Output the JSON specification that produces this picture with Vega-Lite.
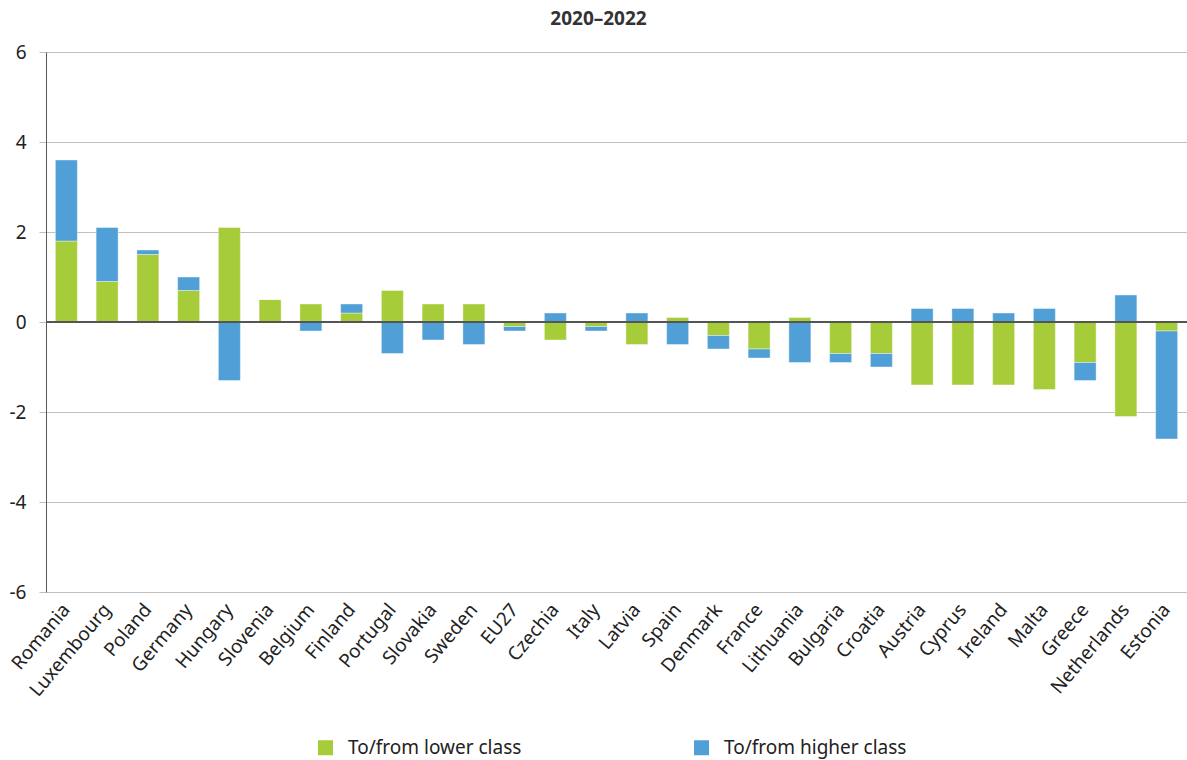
{
  "$schema": "https://vega.github.io/schema/vega-lite/v6.json",
  "width": 1141,
  "height": 540,
  "autosize": {"type": "none"},
  "padding": {"left": 46, "top": 52, "right": 0, "bottom": 168},
  "background": "white",
  "title": {"text": "2020–2022", "font": "Noto Sans", "fontSize": 19, "fontWeight": "bold", "color": "#333333", "anchor": "middle", "dx": -18, "offset": 14},
  "config": {"view": {"stroke": null}, "font": "Noto Sans"},
  "data": {"values": [
    {"country": "Romania", "series": "To/from lower class", "value": 1.8},
    {"country": "Romania", "series": "To/from higher class", "value": 1.8},
    {"country": "Luxembourg", "series": "To/from lower class", "value": 0.9},
    {"country": "Luxembourg", "series": "To/from higher class", "value": 1.2},
    {"country": "Poland", "series": "To/from lower class", "value": 1.5},
    {"country": "Poland", "series": "To/from higher class", "value": 0.1},
    {"country": "Germany", "series": "To/from lower class", "value": 0.7},
    {"country": "Germany", "series": "To/from higher class", "value": 0.3},
    {"country": "Hungary", "series": "To/from lower class", "value": 2.1},
    {"country": "Hungary", "series": "To/from higher class", "value": -1.3},
    {"country": "Slovenia", "series": "To/from lower class", "value": 0.5},
    {"country": "Slovenia", "series": "To/from higher class", "value": 0.0},
    {"country": "Belgium", "series": "To/from lower class", "value": 0.4},
    {"country": "Belgium", "series": "To/from higher class", "value": -0.2},
    {"country": "Finland", "series": "To/from lower class", "value": 0.2},
    {"country": "Finland", "series": "To/from higher class", "value": 0.2},
    {"country": "Portugal", "series": "To/from lower class", "value": 0.7},
    {"country": "Portugal", "series": "To/from higher class", "value": -0.7},
    {"country": "Slovakia", "series": "To/from lower class", "value": 0.4},
    {"country": "Slovakia", "series": "To/from higher class", "value": -0.4},
    {"country": "Sweden", "series": "To/from lower class", "value": 0.4},
    {"country": "Sweden", "series": "To/from higher class", "value": -0.5},
    {"country": "EU27", "series": "To/from lower class", "value": -0.1},
    {"country": "EU27", "series": "To/from higher class", "value": -0.1},
    {"country": "Czechia", "series": "To/from lower class", "value": -0.4},
    {"country": "Czechia", "series": "To/from higher class", "value": 0.2},
    {"country": "Italy", "series": "To/from lower class", "value": -0.1},
    {"country": "Italy", "series": "To/from higher class", "value": -0.1},
    {"country": "Latvia", "series": "To/from lower class", "value": -0.5},
    {"country": "Latvia", "series": "To/from higher class", "value": 0.2},
    {"country": "Spain", "series": "To/from lower class", "value": 0.1},
    {"country": "Spain", "series": "To/from higher class", "value": -0.5},
    {"country": "Denmark", "series": "To/from lower class", "value": -0.3},
    {"country": "Denmark", "series": "To/from higher class", "value": -0.3},
    {"country": "France", "series": "To/from lower class", "value": -0.6},
    {"country": "France", "series": "To/from higher class", "value": -0.2},
    {"country": "Lithuania", "series": "To/from lower class", "value": 0.1},
    {"country": "Lithuania", "series": "To/from higher class", "value": -0.9},
    {"country": "Bulgaria", "series": "To/from lower class", "value": -0.7},
    {"country": "Bulgaria", "series": "To/from higher class", "value": -0.2},
    {"country": "Croatia", "series": "To/from lower class", "value": -0.7},
    {"country": "Croatia", "series": "To/from higher class", "value": -0.3},
    {"country": "Austria", "series": "To/from lower class", "value": -1.4},
    {"country": "Austria", "series": "To/from higher class", "value": 0.3},
    {"country": "Cyprus", "series": "To/from lower class", "value": -1.4},
    {"country": "Cyprus", "series": "To/from higher class", "value": 0.3},
    {"country": "Ireland", "series": "To/from lower class", "value": -1.4},
    {"country": "Ireland", "series": "To/from higher class", "value": 0.2},
    {"country": "Malta", "series": "To/from lower class", "value": -1.5},
    {"country": "Malta", "series": "To/from higher class", "value": 0.3},
    {"country": "Greece", "series": "To/from lower class", "value": -0.9},
    {"country": "Greece", "series": "To/from higher class", "value": -0.4},
    {"country": "Netherlands", "series": "To/from lower class", "value": -2.1},
    {"country": "Netherlands", "series": "To/from higher class", "value": 0.6},
    {"country": "Estonia", "series": "To/from lower class", "value": -0.2},
    {"country": "Estonia", "series": "To/from higher class", "value": -2.4}
  ]},
  "layer": [
    {
      "mark": {"type": "bar", "stroke": "white", "strokeOpacity": 0.4, "strokeWidth": 1},
      "encoding": {
        "x": {"field": "country", "type": "nominal", "sort": null,
          "scale": {"paddingInner": 0.46, "paddingOuter": 0.23},
          "axis": {"title": null, "labelAngle": -50, "labelFontSize": 19, "labelColor": "#222222", "ticks": false, "domain": false, "labelPadding": 14, "labelFont": "Noto Sans"}},
        "y": {"field": "value", "type": "quantitative", "stack": "zero",
          "scale": {"domain": [-6, 6], "nice": false},
          "axis": {"title": null, "values": [-6, -4, -2, 0, 2, 4, 6], "labelExpr": "replace(datum.label, '−', '-')", "grid": true, "gridColor": "#bfbfbf", "gridWidth": 1, "domainColor": "#595959", "tickColor": "#bfbfbf", "tickSize": 7, "labelFontSize": 19, "labelColor": "#222222", "labelPadding": 13, "labelFont": "Noto Sans"}},
        "color": {"field": "series", "type": "nominal",
          "scale": {"domain": ["To/from lower class", "To/from higher class"], "range": ["#a6cd39", "#519fd7"]},
          "legend": {"orient": "none", "legendX": 270, "legendY": 686, "direction": "horizontal", "title": null, "symbolType": "square", "symbolSize": 225, "symbolStrokeWidth": 0, "labelFontSize": 19, "labelColor": "#222222", "labelFont": "Noto Sans", "columnPadding": 170, "labelOffset": 13, "labelLimit": 400}},
        "order": {"field": "series", "sort": "descending"}
      }
    },
    {
      "mark": {"type": "rule", "color": "#555555", "strokeWidth": 2},
      "encoding": {"y": {"datum": 0}}
    }
  ]
}
